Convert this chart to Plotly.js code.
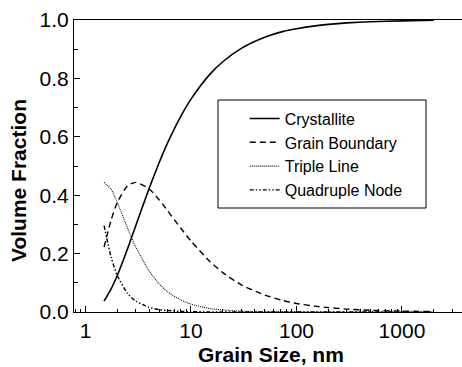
<!DOCTYPE html>
<html>
<head>
<meta charset="utf-8">
<script src="https://cdn.plot.ly/plotly-3.0.1.min.js"></script>
<style>html,body{margin:0;padding:0;background:#fff;}#chart{width:462px;height:367px;}</style>
</head>
<body>
<div id="chart"></div>
<script>
// Grain size (nm)
var grainSize = [1.5, 1.75, 2, 2.5, 3, 4, 5, 6, 8, 10, 15, 20, 30, 50, 75, 100, 150, 200, 300, 500, 1000, 2000];
// Volume fractions
var crystallite   = [0.037, 0.079, 0.125, 0.216, 0.296, 0.422, 0.512, 0.579, 0.670, 0.729, 0.813, 0.857, 0.903, 0.941, 0.961, 0.970, 0.980, 0.985, 0.990, 0.994, 0.997, 0.999];
var grainBoundary = [0.222, 0.315, 0.375, 0.432, 0.444, 0.422, 0.384, 0.347, 0.287, 0.243, 0.174, 0.135, 0.093, 0.058, 0.039, 0.029, 0.020, 0.015, 0.010, 0.006, 0.003, 0.0015];
var tripleLine    = [0.444, 0.420, 0.375, 0.288, 0.222, 0.141, 0.096, 0.069, 0.041, 0.027, 0.012, 0.007, 0.003, 0.001, 0.0005, 0.0003, 0.0001, 0, 0, 0, 0, 0];
var quadNode      = [0.296, 0.187, 0.125, 0.064, 0.037, 0.016, 0.008, 0.005, 0.002, 0.001, 0.0003, 0.0001, 0, 0, 0, 0, 0, 0, 0, 0, 0, 0];
var seriesNames = ["Crystallite", "Grain Boundary", "Triple Line", "Quadruple Node"];
var xTickVals = [1, 10, 100, 1000];
var xTickText = ["1", "10", "100", "1000"];

var FONT = "Liberation Sans, Arial, Helvetica, sans-serif";
var styles = [
  {color: "#000", width: 1.6, dash: "solid"},
  {color: "#000", width: 1.4, dash: "6px,4px"},
  {color: "#111", width: 1.1, dash: "1px,1px"},
  {color: "#000", width: 1.4, dash: "4px,2px,1.5px,2px,1.5px,2px"}
];
var ys = [crystallite, grainBoundary, tripleLine, quadNode];
var traces = ys.map(function (y, i) {
  return {x: grainSize, y: y, name: seriesNames[i], type: "scatter", mode: "lines",
          line: {color: styles[i].color, width: styles[i].width, dash: styles[i].dash, shape: "spline", smoothing: 0.6}};
});

var layout = {
  width: 462, height: 367,
  margin: {l: 74, r: 0, t: 20, b: 55},
  paper_bgcolor: "#fff", plot_bgcolor: "#fff",
  font: {family: FONT, color: "#000"},
  showlegend: true,
  legend: {x: 0.44, y: 0.7205, xanchor: "left", yanchor: "top", bgcolor: "rgba(0,0,0,0)",
           borderwidth: 0, font: {size: 16, family: FONT, color: "#000"}, tracegroupgap: 0},
  xaxis: {type: "log", range: [-0.109, 3.569], showgrid: false, zeroline: false,
          showline: true, linecolor: "#000", linewidth: 1, mirror: true,
          tickmode: "array", tickvals: xTickVals, ticktext: xTickText,
          ticks: "inside", ticklen: 6, tickcolor: "#000", tickwidth: 1,
          minor: {ticks: "inside", ticklen: 3.5, dtick: "D1", tickcolor: "#000", showgrid: false},
          tickfont: {size: 21, family: FONT, color: "#000"}},
  yaxis: {range: [0, 1], showgrid: false, zeroline: false,
          showline: true, linecolor: "#000", linewidth: 1,
          dtick: 0.2, tick0: 0, tickformat: ".1f",
          ticks: "inside", ticklen: 6, tickcolor: "#000", tickwidth: 1,
          minor: {ticks: "inside", ticklen: 3.5, dtick: 0.1, tickcolor: "#000", showgrid: false},
          tickfont: {size: 21, family: FONT, color: "#000"}},
  shapes: [{type: "rect", xref: "paper", yref: "paper",
            x0: (218 - 74) / 388, x1: (426 - 74) / 388,
            y0: (312 - 208) / 292, y1: (312 - 100) / 292,
            line: {color: "#000", width: 1}, fillcolor: "rgba(0,0,0,0)"}],
  annotations: [
    {text: "<b>Volume Fraction</b>", xref: "paper", yref: "paper", x: (18 - 74) / 388, y: (312 - 181) / 292,
     xanchor: "center", yanchor: "middle", textangle: -90, showarrow: false, font: {size: 21, family: FONT, color: "#000"}},
    {text: "<b>Grain Size, nm</b>", xref: "paper", yref: "paper", x: (271 - 74) / 388, y: -(354 - 312) / 292,
     xanchor: "center", yanchor: "middle", showarrow: false, font: {size: 21, family: FONT, color: "#000"}}
  ]
};

Plotly.newPlot("chart", traces, layout, {staticPlot: true, displayModeBar: false});
</script>
</body>
</html>
